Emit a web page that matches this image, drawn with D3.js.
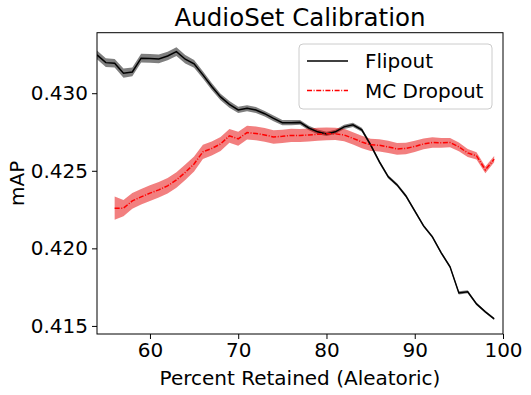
<!DOCTYPE html>
<html>
<head>
<meta charset="utf-8">
<script src="https://cdn.jsdelivr.net/npm/d3@7"></script>
<style>
  body { margin: 0; background: #fff; }
  text { font-family: "DejaVu Sans", sans-serif; fill: #000; }
</style>
</head>
<body>
<svg width="531" height="395"></svg>
<script>
// Flipout: percent retained 54..99
var flipX = d3.range(54, 100);
var flipMean = [
  0.43247, 0.43197, 0.43193, 0.43129, 0.43137, 0.43226, 0.43224, 0.43221, 0.43240, 0.43268,
  0.43219, 0.43189, 0.43118, 0.43043, 0.42976, 0.42928, 0.42892, 0.42903, 0.42892, 0.42868,
  0.42838, 0.42810, 0.42810, 0.42812, 0.42776, 0.42751, 0.42738, 0.42751, 0.42783, 0.42796,
  0.42764, 0.42667, 0.42557, 0.42461, 0.42409, 0.42338, 0.42241, 0.42145, 0.42074, 0.41971,
  0.41881, 0.41713, 0.41720, 0.41642, 0.41591, 0.41546
];
var flipErr = [
  0.00028, 0.00028, 0.00028, 0.00030, 0.00028, 0.00028, 0.00028, 0.00028, 0.00028, 0.00028,
  0.00027, 0.00025, 0.00023, 0.00022, 0.00021, 0.00021, 0.00020, 0.00020, 0.00019, 0.00018,
  0.00018, 0.00017, 0.00017, 0.00016, 0.00015, 0.00015, 0.00014, 0.00014, 0.00014, 0.00014,
  0.00013, 0.00012, 0.00011, 0.00011, 0.00010, 0.00010, 0.00010, 0.00009, 0.00009, 0.00009,
  0.00009, 0.00010, 0.00010, 0.00008, 0.00007, 0.00007
];

// MC Dropout: percent retained 56..99
var mcX = d3.range(56, 100);
var mcMean = [
  0.42259, 0.42259, 0.42306, 0.42332, 0.42356, 0.42377, 0.42403, 0.42441, 0.42490, 0.42544,
  0.42622, 0.42644, 0.42673, 0.42725, 0.42706, 0.42746, 0.42741, 0.42731, 0.42718, 0.42722,
  0.42728, 0.42728, 0.42731, 0.42735, 0.42738, 0.42738, 0.42731, 0.42709, 0.42686, 0.42667,
  0.42664, 0.42654, 0.42641, 0.42644, 0.42657, 0.42673, 0.42682, 0.42680, 0.42682, 0.42654,
  0.42615, 0.42596, 0.42506, 0.42575
];
var mcErr = [
  0.00075, 0.00052, 0.00050, 0.00050, 0.00050, 0.00050, 0.00050, 0.00050, 0.00050, 0.00048,
  0.00046, 0.00045, 0.00045, 0.00045, 0.00045, 0.00045, 0.00045, 0.00044, 0.00044, 0.00043,
  0.00043, 0.00042, 0.00042, 0.00042, 0.00041, 0.00040, 0.00040, 0.00040, 0.00040, 0.00040,
  0.00040, 0.00040, 0.00038, 0.00037, 0.00036, 0.00035, 0.00034, 0.00032, 0.00030, 0.00028,
  0.00026, 0.00024, 0.00022, 0.00020
];

var xTicks = [60, 70, 80, 90, 100];
var yTicks = [0.415, 0.420, 0.425, 0.430];
var seriesNames = ["Flipout", "MC Dropout"];

(function() {
  var svg = d3.select("svg");
  var pL = 97, pR = 503, pT = 32.7, pB = 334;
  var fs = "20px";

  var x = d3.scaleLinear().domain([54, 100]).range([pL, pR]);
  var y = d3.scaleLinear().domain([0.41448, 0.4339]).range([pB, pT]);

  svg.append("defs").append("clipPath").attr("id", "plot")
    .append("rect").attr("x", pL).attr("y", pT)
    .attr("width", pR - pL).attr("height", pB - pT);

  var plot = svg.append("g").attr("clip-path", "url(#plot)");

  function toRows(xs, m, e) {
    return xs.map(function(v, i) { return { x: v, m: m[i], e: e[i] }; });
  }
  var flip = toRows(flipX, flipMean, flipErr);
  var mc = toRows(mcX, mcMean, mcErr);

  var area = d3.area()
    .x(function(d) { return x(d.x); })
    .y0(function(d) { return y(d.m - d.e); })
    .y1(function(d) { return y(d.m + d.e); });
  var line = d3.line()
    .x(function(d) { return x(d.x); })
    .y(function(d) { return y(d.m); });

  plot.append("path").datum(flip).attr("d", area)
    .style("fill", "#000").style("fill-opacity", 0.5);
  plot.append("path").datum(mc).attr("d", area)
    .style("fill", "#e60000").style("fill-opacity", 0.5);

  plot.append("path").datum(flip).attr("d", line)
    .style("fill", "none").style("stroke", "#000").style("stroke-width", 1.5);
  plot.append("path").datum(mc).attr("d", line)
    .style("fill", "none").style("stroke", "#ff0000").style("stroke-width", 1.5)
    .style("stroke-dasharray", "5,1.6,1,1.6");

  // axes
  var xAxis = svg.append("g").attr("transform", "translate(0," + pB + ")")
    .call(d3.axisBottom(x).tickValues(xTicks).tickSize(5).tickPadding(4).tickFormat(d3.format("d")));
  var yAxis = svg.append("g").attr("transform", "translate(" + pL + ",0)")
    .call(d3.axisLeft(y).tickValues(yTicks).tickSize(5).tickPadding(4).tickFormat(d3.format(".3f")));
  [xAxis, yAxis].forEach(function(a) {
    a.select(".domain").remove();
    a.selectAll("line").style("stroke", "#000").style("stroke-width", 1);
    a.selectAll("text").style("font-size", fs).style("font-family", "DejaVu Sans");
  });

  svg.append("rect").attr("x", pL).attr("y", pT)
    .attr("width", pR - pL).attr("height", pB - pT)
    .style("fill", "none").style("stroke", "#000").style("stroke-width", 1);

  svg.append("text").attr("x", (pL + pR) / 2).attr("y", 26)
    .attr("text-anchor", "middle").style("font-size", "24.5px")
    .text("AudioSet Calibration");
  svg.append("text").attr("x", (pL + pR) / 2).attr("y", 385)
    .attr("text-anchor", "middle").style("font-size", fs)
    .text("Percent Retained (Aleatoric)");
  svg.append("text")
    .attr("transform", "translate(24," + (pT + pB) / 2 + ") rotate(-90)")
    .attr("text-anchor", "middle").style("font-size", fs)
    .text("mAP");

  // legend
  var lg = svg.append("g");
  lg.append("rect").attr("x", 299).attr("y", 44).attr("width", 193).attr("height", 65)
    .attr("rx", 4).style("fill", "#fff").style("fill-opacity", 0.8)
    .style("stroke", "#ccc").style("stroke-width", 1);
  var legendStyles = [
    { color: "#000", dash: null },
    { color: "#ff0000", dash: "5,1.6,1,1.6" }
  ];
  seriesNames.forEach(function(name, i) {
    var yy = 61 + i * 29.5;
    lg.append("line").attr("x1", 307).attr("x2", 348).attr("y1", yy).attr("y2", yy)
      .style("stroke", legendStyles[i].color).style("stroke-width", 1.5)
      .style("stroke-dasharray", legendStyles[i].dash);
    lg.append("text").attr("x", 365).attr("y", yy).attr("dy", "0.35em")
      .style("font-size", fs).text(name);
  });
})();
</script>
</body>
</html>
